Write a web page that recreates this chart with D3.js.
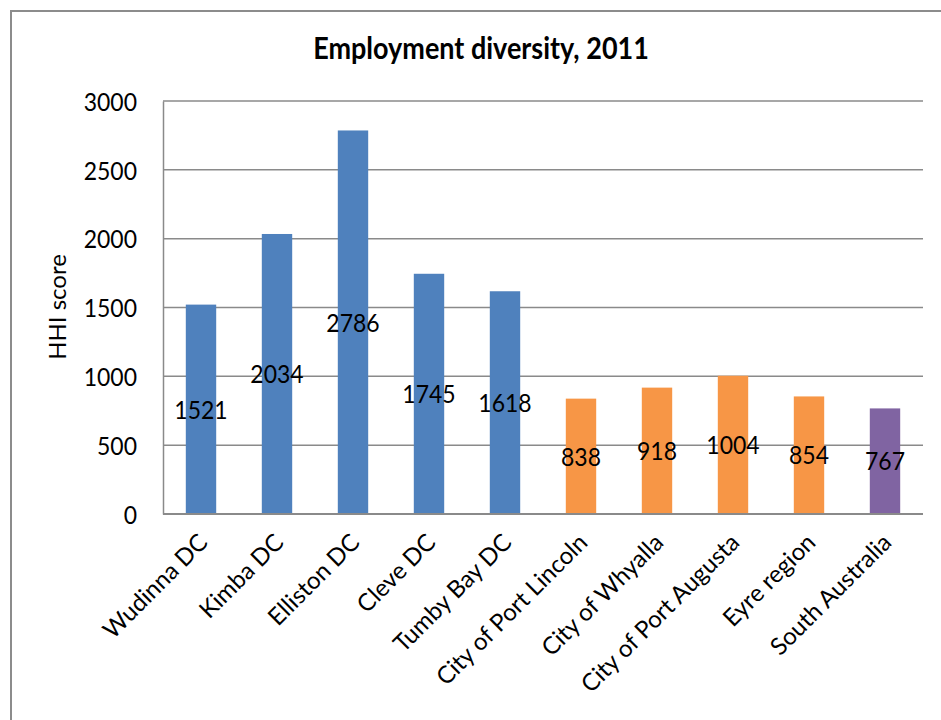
<!DOCTYPE html>
<html>
<head>
<meta charset="utf-8">
<script src="https://cdn.jsdelivr.net/npm/d3@7"></script>
<style>
  html, body { margin: 0; padding: 0; background: #fff; }
  svg { display: block; }
  text { font-family: Lato, "Liberation Sans", sans-serif; fill: #000; }
</style>
</head>
<body>
<svg id="chart" width="941" height="720"></svg>
<script>
const categories = ["Wudinna DC", "Kimba DC", "Elliston DC", "Cleve DC", "Tumby Bay DC",
  "City of Port Lincoln", "City of Whyalla", "City of Port Augusta", "Eyre region", "South Australia"];
const values = [1521, 2034, 2786, 1745, 1618, 838, 918, 1004, 854, 767];
const groups = ["DC", "DC", "DC", "DC", "DC", "City", "City", "City", "Region", "State"];
const yTicks = [0, 500, 1000, 1500, 2000, 2500, 3000];
const title = "Employment diversity, 2011";
const yTitle = "HHI score";

const colorScale = d3.scaleOrdinal()
  .domain(["DC", "City", "Region", "State"])
  .range(["#4F81BD", "#F79646", "#F79646", "#8064A2"]);

const svg = d3.select("#chart");
const plot = { left: 163, right: 923, top: 101, bottom: 514 };
const stretch = 1.12;

// outer frame
svg.append("rect")
  .attr("x", 11).attr("y", 11)
  .attr("width", 960).attr("height", 740)
  .attr("fill", "none").attr("stroke", "#8c8c8c").attr("stroke-width", 2);

const x = d3.scaleBand().domain(categories)
  .range([plot.left, plot.right]).paddingInner(0.6).paddingOuter(0.3);
const xc = d3.scaleBand().domain(categories).range([plot.left, plot.right]).padding(0);
const y = d3.scaleLinear().domain([0, 3000]).range([plot.bottom, plot.top]);

// gridlines
svg.append("g").selectAll("line").data(yTicks.filter(d => d > 0)).join("line")
  .attr("x1", plot.left).attr("x2", plot.right)
  .attr("y1", d => y(d)).attr("y2", d => y(d))
  .attr("stroke", "#8a8a8a").attr("stroke-width", 1.5);

// y axis
const yAxis = svg.append("g").attr("transform", `translate(${plot.left},0)`)
  .call(d3.axisLeft(y).tickValues(yTicks).tickFormat(d3.format("d")).tickSize(0).tickPadding(26));
yAxis.select(".domain").attr("stroke", "#8a8a8a").attr("stroke-width", 1.5);
yAxis.selectAll("text").style("font-family", "Lato, 'Liberation Sans', sans-serif")
  .style("font-size", "23px").attr("fill", "#000").attr("dy", "0.36em")
  .attr("transform", `scale(1,${stretch})`)
  .attr("y", 0);

// bars
svg.append("g").selectAll("rect").data(categories).join("rect")
  .attr("x", d => x(d)).attr("width", x.bandwidth())
  .attr("y", (d, i) => y(values[i]))
  .attr("height", (d, i) => y(0) - y(values[i]))
  .attr("fill", (d, i) => colorScale(groups[i]));

// x axis line
svg.append("line")
  .attr("x1", plot.left).attr("x2", plot.right)
  .attr("y1", y(0)).attr("y2", y(0))
  .attr("stroke", "#8a8a8a").attr("stroke-width", 2);

// data labels at bar middle
svg.append("g").selectAll("text").data(categories).join("text")
  .attr("transform", (d, i) => `translate(${x(d) + x.bandwidth() / 2},${(y(values[i]) + y(0)) / 2}) scale(1,${stretch})`)
  .attr("text-anchor", "middle").attr("dy", "0.36em")
  .style("font-size", "23px")
  .text((d, i) => values[i]);

// category labels
svg.append("g").selectAll("text").data(categories).join("text")
  .attr("transform", d => `translate(${xc(d) + xc.bandwidth() / 2 + 8},${plot.bottom + 30}) rotate(-45)`)
  .attr("text-anchor", "end")
  .style("font-size", "24px")
  .text(d => d);

// title
svg.append("text")
  .attr("transform", `translate(481,59) scale(1,${stretch})`)
  .attr("text-anchor", "middle")
  .style("font-size", "27px").style("font-weight", "bold")
  .text(title);

// y title
svg.append("text")
  .attr("transform", `translate(66,307) rotate(-90)`)
  .attr("text-anchor", "middle")
  .style("font-size", "24px")
  .text(yTitle);
</script>
</body>
</html>
